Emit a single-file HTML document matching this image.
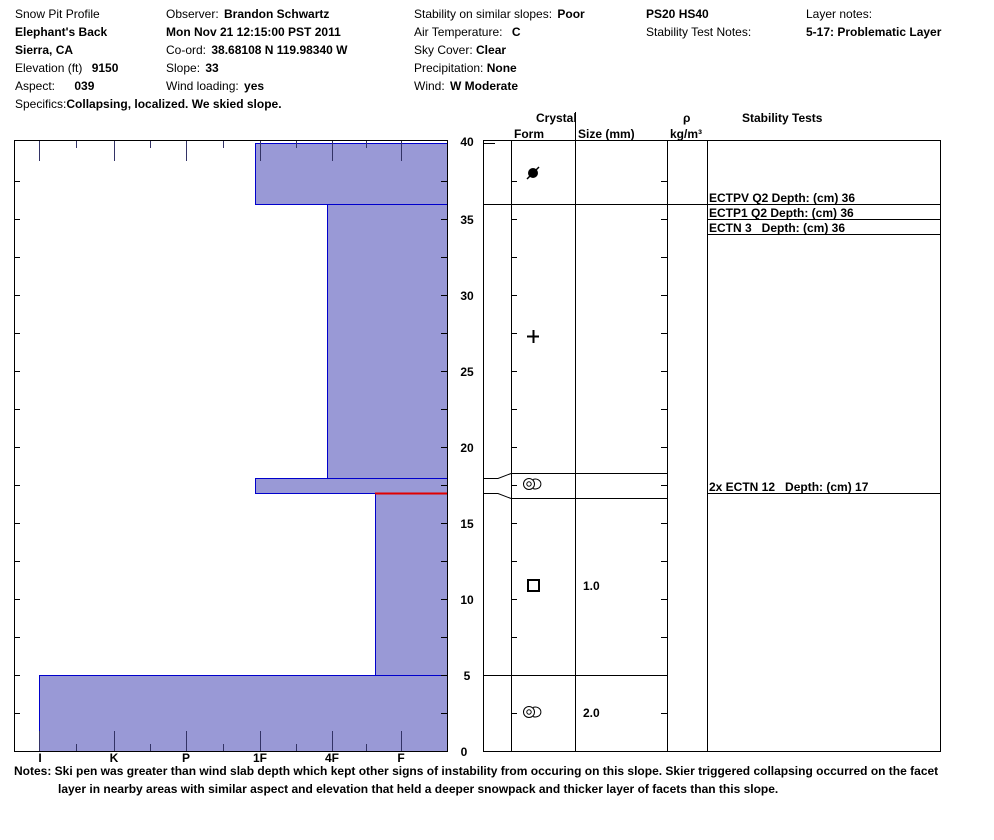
<!DOCTYPE html>
<html><head><meta charset="utf-8"><style>
body{margin:0;background:#fff;}
svg{display:block;font-family:"Liberation Sans",Arial,sans-serif;font-size:12px;}
.b{font-weight:bold;}
</style></head><body>
<svg width="994" height="840" xmlns="http://www.w3.org/2000/svg">
<rect width="994" height="840" fill="#fff"/>
<g fill="#000">
<text x="15" y="18">Snow Pit Profile</text>
<text x="15" y="36" class="b">Elephant's Back</text>
<text x="15" y="54" class="b">Sierra, CA</text>
<text x="15" y="72">Elevation (ft) <tspan class="b" dx="6">9150</tspan></text>
<text x="15" y="90">Aspect: <tspan class="b" dx="16">039</tspan></text>
<text x="15" y="108">Specifics:<tspan class="b">Collapsing, localized. We skied slope.</tspan></text>
<text x="166" y="18">Observer: <tspan class="b" dx="2">Brandon Schwartz</tspan></text>
<text x="166" y="36" class="b">Mon Nov 21 12:15:00 PST 2011</text>
<text x="166" y="54">Co-ord: <tspan class="b" dx="2">38.68108 N 119.98340 W</tspan></text>
<text x="166" y="72">Slope: <tspan class="b" dx="2">33</tspan></text>
<text x="166" y="90">Wind loading: <tspan class="b" dx="2">yes</tspan></text>
<text x="414" y="18">Stability on similar slopes: <tspan class="b" dx="2">Poor</tspan></text>
<text x="414" y="36">Air Temperature: <tspan class="b" dx="6">C</tspan></text>
<text x="414" y="54">Sky Cover: <tspan class="b">Clear</tspan></text>
<text x="414" y="72">Precipitation: <tspan class="b">None</tspan></text>
<text x="414" y="90">Wind: <tspan class="b" dx="2">W Moderate</tspan></text>
<text x="646" y="18" class="b">PS20 HS40</text>
<text x="646" y="36">Stability Test Notes:</text>
<text x="806" y="18">Layer notes:</text>
<text x="806" y="36" class="b">5-17: Problematic Layer</text>
</g>
<g fill="#9999d6" stroke="#0000cc" stroke-width="1">
<rect x="255.5" y="143.5" width="192" height="61"/>
<rect x="327.5" y="204.5" width="120" height="274"/>
<rect x="255.5" y="478.5" width="192" height="15"/>
<rect x="375.5" y="493.5" width="72" height="182"/>
<rect x="39.5" y="675.5" width="408" height="76"/>
</g>
<line x1="375" y1="493.5" x2="447" y2="493.5" stroke="#e00000" stroke-width="2"/>
<rect x="14.5" y="140.5" width="433" height="611" fill="none" stroke="#000"/>
<g stroke="#333366" stroke-width="1">
<path d="M39.5 751v-20M114.5 751v-20M186.5 751v-20M260.5 751v-20M332.5 751v-20M401.5 751v-20M76.5 751v-7M150.5 751v-7M223.5 751v-7M296.5 751v-7M366.5 751v-7"/>
<path d="M39.5 141v20M114.5 141v20M186.5 141v20M260.5 141v20M332.5 141v20M401.5 141v20M76.5 141v7M150.5 141v7M223.5 141v7M296.5 141v7M366.5 141v7"/>
</g>
<g stroke="#000">
<path d="M14 713.5h6M14 675.5h6M14 637.5h6M14 599.5h6M14 561.5h6M14 523.5h6M14 485.5h6M14 447.5h6M14 409.5h6M14 371.5h6M14 333.5h6M14 295.5h6M14 257.5h6M14 219.5h6M14 181.5h6"/>
<path d="M441 713.5h6M441 675.5h6M441 637.5h6M441 599.5h6M441 561.5h6M441 523.5h6M441 485.5h6M441 447.5h6M441 409.5h6M441 371.5h6M441 333.5h6M441 295.5h6M441 257.5h6M441 219.5h6M441 181.5h6"/>
</g>
<g fill="#000" font-weight="bold" text-anchor="middle">
<text x="40" y="762">I</text><text x="114" y="762">K</text><text x="186" y="762">P</text>
<text x="260" y="762">1F</text><text x="332" y="762">4F</text><text x="401" y="762">F</text>
</g>
<g fill="#000" font-weight="bold" text-anchor="middle">
<text x="467" y="146">40</text><text x="467" y="224">35</text><text x="467" y="300">30</text>
<text x="467" y="376">25</text><text x="467" y="452">20</text><text x="467" y="528">15</text>
<text x="467" y="604">10</text><text x="467" y="680">5</text><text x="464" y="756">0</text>
</g>
<g fill="#000" font-weight="bold">
<text x="536" y="122">Crystal</text>
<text x="514" y="138">Form</text>
<text x="578" y="138">Size (mm)</text>
<text x="683" y="122">ρ</text>
<text x="670" y="138">kg/m³</text>
<text x="742" y="122">Stability Tests</text>
</g>
<rect x="483.5" y="140.5" width="457" height="611" fill="none" stroke="#000"/>
<g stroke="#000" fill="none">
<path d="M575.5 112v640M511.5 140v612M667.5 140v612M707.5 140v612"/>
<path d="M483 204.5h224M483 675.5h184M511 473.5h156M511 498.5h156"/>
<path d="M483 478.5h15L511 473.5M483 493.5h15L511 498.5"/>
<path d="M483 143.5h12"/>
<path d="M707 204.5h234M707 219.5h234M707 234.5h234M707 493.5h234"/>
<path d="M511 713.5h6M511 637.5h6M511 599.5h6M511 561.5h6M511 523.5h6M511 485.5h6M511 447.5h6M511 409.5h6M511 371.5h6M511 333.5h6M511 295.5h6M511 257.5h6M511 219.5h6M511 181.5h6"/>
<path d="M661 713.5h6M661 637.5h6M661 599.5h6M661 561.5h6M661 523.5h6M661 485.5h6M661 447.5h6M661 409.5h6M661 371.5h6M661 333.5h6M661 295.5h6M661 257.5h6M661 219.5h6M661 181.5h6"/>
</g>
<circle cx="533" cy="173" r="5" fill="#000"/>
<line x1="527" y1="179" x2="539" y2="167" stroke="#000" stroke-width="1.5"/>
<path d="M527 336.5h12M533.5 330v13" stroke="#000" stroke-width="2"/>
<g fill="none" stroke="#000" stroke-width="1">
<circle cx="529" cy="484" r="5.5"/><circle cx="529" cy="484" r="2.2"/>
<path d="M533 479.5a5.5 5 0 1 1 0 9"/>
<circle cx="529" cy="712" r="5.5"/><circle cx="529" cy="712" r="2.2"/>
<path d="M533 707.5a5.5 5 0 1 1 0 9"/>
</g>
<rect x="528" y="580" width="11" height="11" fill="none" stroke="#000" stroke-width="2"/>
<g fill="#000" font-weight="bold">
<text x="583" y="590">1.0</text>
<text x="583" y="717">2.0</text>
<text x="709" y="202">ECTPV Q2 Depth: (cm) 36</text>
<text x="709" y="217">ECTP1 Q2 Depth: (cm) 36</text>
<text x="709" y="232" xml:space="preserve">ECTN 3   Depth: (cm) 36</text>
<text x="709" y="491" xml:space="preserve">2x ECTN 12   Depth: (cm) 17</text>
<text x="14" y="775">Notes:  Ski pen was greater than wind slab depth which kept other signs of instability from occuring on this slope. Skier triggered collapsing occurred on the facet</text>
<text x="58" y="793">layer in nearby areas with similar aspect and elevation that held a deeper snowpack and thicker layer of facets than this slope.</text>
</g>
</svg>
</body></html>
